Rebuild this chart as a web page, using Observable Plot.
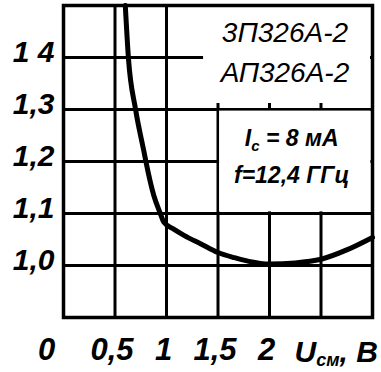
<!DOCTYPE html>
<html><head><meta charset="utf-8">
<script src="https://cdn.jsdelivr.net/npm/d3@7"></script>
<script src="https://cdn.jsdelivr.net/npm/@observablehq/plot@0.6"></script>
<style>body{margin:0;background:#fff} svg{display:block}</style>
</head><body><div id="chart"></div>
<script>
// Noise figure ratio vs drain-source voltage
const curveU = [0.60, 0.63, 0.70, 0.78, 0.80, 0.876, 0.94, 0.975, 1.07, 1.17, 1.33, 1.50, 1.66, 1.80, 2.00, 2.25, 2.50, 2.75, 3.00];
const curveK = [1.50, 1.40, 1.30, 1.22, 1.20, 1.135, 1.10, 1.083, 1.07, 1.058, 1.042, 1.025, 1.015, 1.008, 1.003, 1.005, 1.012, 1.03, 1.054];
const xGrid = [0.5, 1, 1.5, 2, 2.5];
const yGrid = [1.0, 1.1, 1.2, 1.3, 1.4];
const xTickValues = [0.5, 1, 1.5, 2];
const xTickLabels = ["0,5", "1", "1,5", "2"];
const xZeroLabel = "0";
const yTickLabels = ["1,0", "1,1", "1,2", "1,3", "1 4"];
const deviceNames = ["3П326А-2", "АП326А-2"];
const condCurrent = ["I", "с", " = 8 мА"];
const condFreq = "f=12,4 ГГц";
const axisLabel = ["U", "см", ", В"];

const FONT = "'Liberation Sans',Arial,sans-serif";
const data = curveU.map((u, i) => ({u, k: curveK[i]}));

const chart = Plot.plot({
  width: 381, height: 372,
  marginLeft: 63, marginRight: 9, marginTop: 5, marginBottom: 55,
  x: {domain: [0, 3], axis: null},
  y: {domain: [0.9, 1.5], axis: null},
  style: {background: "#fff", fontFamily: FONT, color: "#000"},
  marks: [
    Plot.ruleX(xGrid, {stroke: "#000", strokeWidth: 3}),
    Plot.ruleY(yGrid, {stroke: "#000", strokeWidth: 3}),
    // white legend boxes covering grid
    Plot.rect([0], {x1: () => 1.36, x2: () => 3, y1: () => yGrid[3], y2: () => 1.5, fill: "#fff",
      insetTop: 2, insetRight: 2, insetBottom: 6, insetLeft: 0}),
    Plot.rect([0], {x1: () => xGrid[2], x2: () => 3, y1: () => yGrid[1], y2: () => yGrid[3], fill: "#fff",
      inset: 1.6}),
    Plot.frame({stroke: "#000", strokeWidth: 3.5}),
    Plot.line(data, {x: "u", y: "k", stroke: "#000", strokeWidth: 5, curve: "monotone-x"}),
    Plot.text(yGrid, {x: () => 0, y: d => d, text: (d, i) => yTickLabels[i], textAnchor: "end",
      dx: -9, dy: -5, fontSize: 30, fontStyle: "italic", fontWeight: "bold"}),
    Plot.text(xTickValues, {x: d => d, y: () => 0.9, text: (d, i) => xTickLabels[i],
      dx: -3, dy: 33, fontSize: 31, fontStyle: "italic", fontWeight: "bold"}),
    Plot.text([xZeroLabel], {x: () => 0, y: () => 0.9, text: d => d,
      dx: -17, dy: 33, fontSize: 31, fontStyle: "italic", fontWeight: "bold"}),
    Plot.text([deviceNames.join("\n")], {x: () => 2.15, y: () => 1.4, text: d => d,
      dy: -8, lineHeight: 1.4, fontSize: 28, fontStyle: "italic"})
  ]
});
document.getElementById("chart").appendChild(chart);

const sx = chart.scale("x").apply, sy = chart.scale("y").apply;
const svg = d3.select(chart);

// Axis label U_см, В
const ax = svg.append("text")
  .attr("x", sx(2.5) - 26).attr("y", sy(0.9) + 45).attr("text-anchor", "start")
  .attr("font-family", FONT).attr("font-style", "italic").attr("font-weight", "bold")
  .attr("font-size", 30).attr("fill", "#000");
ax.append("tspan").text(axisLabel[0]);
ax.append("tspan").attr("font-size", 18).attr("dy", 4).text(axisLabel[1]);
ax.append("tspan").attr("dy", -4).text(axisLabel[2]);

// Conditions
const c1 = svg.append("text")
  .attr("x", sx(2.22)).attr("y", sy(1.2) - 15).attr("text-anchor", "middle")
  .attr("font-family", FONT).attr("font-style", "italic").attr("font-weight", "bold")
  .attr("font-size", 23).attr("fill", "#000");
c1.append("tspan").text(condCurrent[0]);
c1.append("tspan").attr("font-size", 15).attr("dy", 5).text(condCurrent[1]);
c1.append("tspan").attr("dy", -5).text(condCurrent[2]);

svg.append("text")
  .attr("x", sx(2.22)).attr("y", sy(1.2) + 22).attr("text-anchor", "middle")
  .attr("font-family", FONT).attr("font-style", "italic").attr("font-weight", "bold")
  .attr("font-size", 23).attr("fill", "#000").text(condFreq);
</script>
</body></html>
